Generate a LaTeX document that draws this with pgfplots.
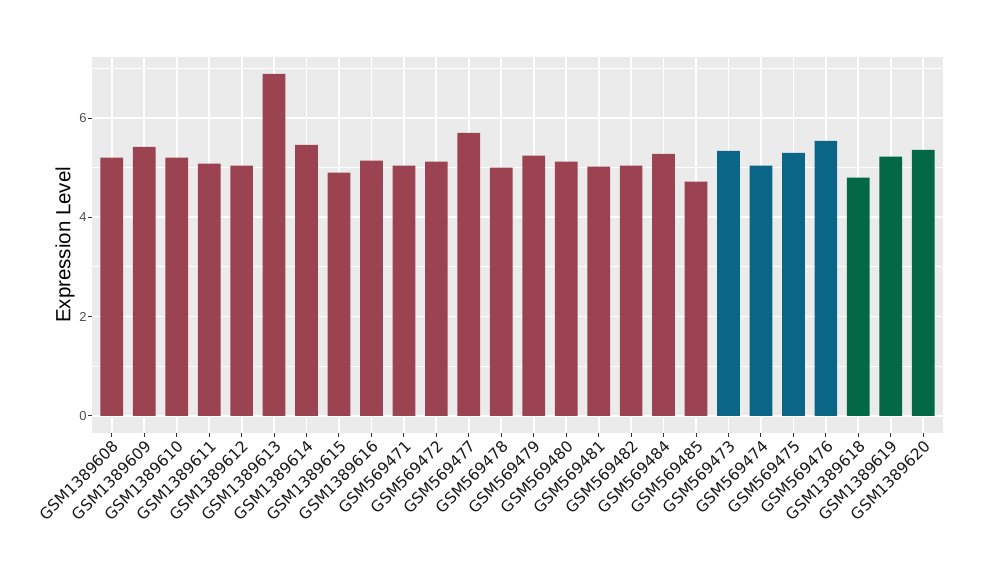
\documentclass[border=0pt]{standalone}
\usepackage{fontspec}
\setmainfont{Liberation Sans}
\newfontfamily\dejavu{DejaVu Sans}
\usepackage{pgfplots}
\pgfplotsset{compat=1.18}
\definecolor{panelgray}{RGB}{235,235,235}
\definecolor{gray20}{RGB}{51,51,51}
\definecolor{gray30}{RGB}{77,77,77}
\definecolor{barred}{RGB}{155,67,81}
\definecolor{barblue}{RGB}{10,101,135}
\definecolor{bargreen}{RGB}{3,104,70}
\begin{document}
\begin{tikzpicture}[x=1pt,y=1pt]
\useasboundingbox (0,0) rectangle (1000,580);
\begin{axis}[
  at={(92.3pt,147pt)}, anchor=south west,
  scale only axis, width=850.4pt, height=376.3pt,
  xmin=0.4, xmax=26.6, ymin=-0.345, ymax=7.235,
  axis background/.style={fill=panelgray},
  axis line style={draw=none},
  xtick={1,...,26},
  xticklabels={GSM1389608,GSM1389609,GSM1389610,GSM1389611,GSM1389612,GSM1389613,GSM1389614,GSM1389615,GSM1389616,GSM569471,GSM569472,GSM569477,GSM569478,GSM569479,GSM569480,GSM569481,GSM569482,GSM569484,GSM569485,GSM569473,GSM569474,GSM569475,GSM569476,GSM1389618,GSM1389619,GSM1389620},
  ytick={0,2,4,6}, minor ytick={1,3,5,7},
  grid=both,
  major grid style={white, line width=1.8pt},
  minor grid style={white, line width=0.9pt},
  tick pos=left, tick align=outside,
  major tick length=4pt, minor tick length=0pt,
  tick style={gray20, line width=1pt},
  /pgf/number format/assume math mode=true,
  yticklabel style={font=\fontsize{13}{15}\selectfont, text=gray30, inner sep=1.5pt},
  xticklabel style={font=\dejavu\fontsize{15.5}{17}\selectfont, text=black!90, rotate=45, anchor=north east, inner sep=1.5pt},
  ylabel={Expression Level},
  every axis y label/.style={at={(rel axis cs:0,0.5)}, rotate=90, anchor=center, yshift=27.3pt, font=\fontsize{20.5}{23}\selectfont},
]
\addplot[ybar, bar width=0.7, bar shift=0pt, fill=barred, draw=none] coordinates {
(1,5.20) (2,5.42) (3,5.20) (4,5.08) (5,5.04) (6,6.89) (7,5.46) (8,4.90) (9,5.14) (10,5.04) (11,5.12) (12,5.70) (13,5.00) (14,5.24) (15,5.12) (16,5.02) (17,5.04) (18,5.28) (19,4.72)};
\addplot[ybar, bar width=0.7, bar shift=0pt, fill=barblue, draw=none] coordinates {
(20,5.34) (21,5.04) (22,5.30) (23,5.54)};
\addplot[ybar, bar width=0.7, bar shift=0pt, fill=bargreen, draw=none] coordinates {
(24,4.80) (25,5.22) (26,5.36)};
\end{axis}
\end{tikzpicture}
\end{document}
